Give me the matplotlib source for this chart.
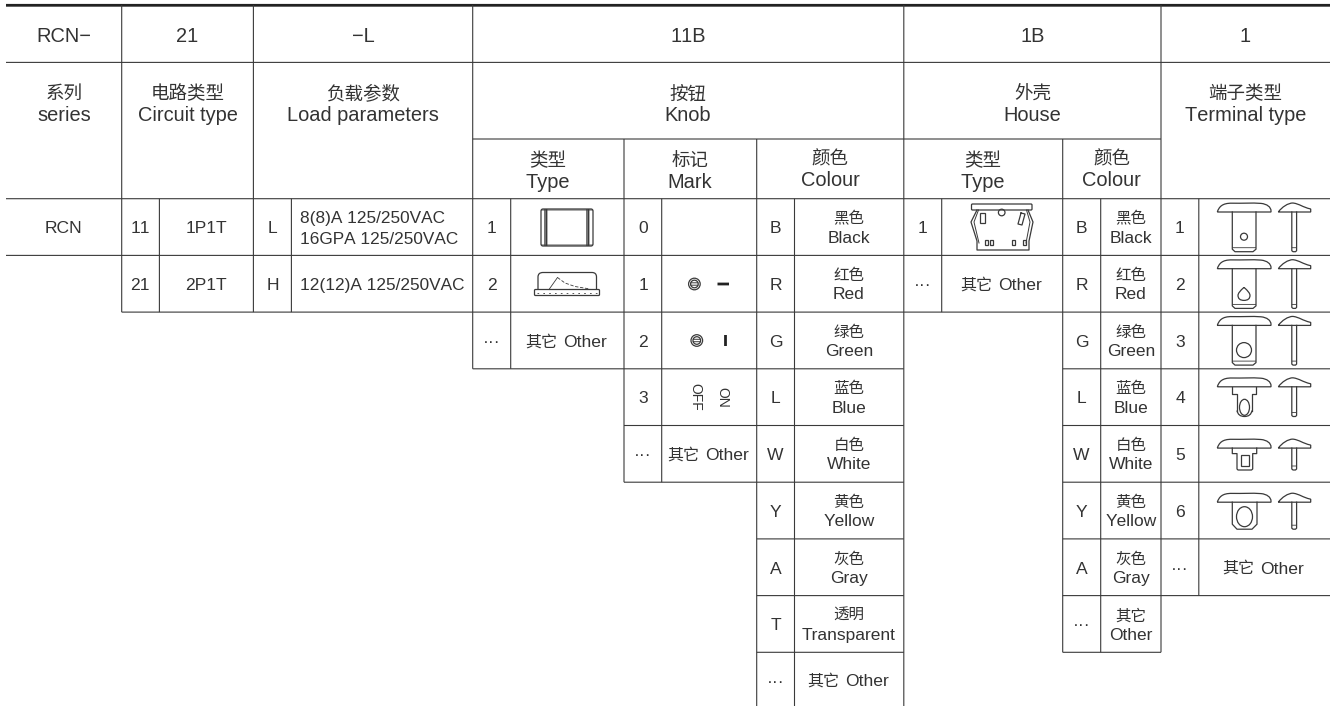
import numpy as np
import matplotlib
matplotlib.use('Agg')
import matplotlib.pyplot as plt
from matplotlib.path import Path
from matplotlib.patches import PathPatch, Circle, Ellipse, Rectangle, FancyBboxPatch

plt.rcParams['font.family'] = ['Liberation Sans', 'Noto Sans CJK SC']
plt.rcParams['text.kerning_factor'] = 6

# table text
code_row = ['RCN\u2212', '21', '\u2212L', '11B', '1B', '1']
head_cn = ['系列', '电路类型', '负载参数', '按钮', '外壳', '端子类型']
head_en = ['series', 'Circuit type', 'Load parameters', 'Knob', 'House', 'Terminal type']
sub_cn = ['类型', '标记', '颜色', '类型', '颜色']
sub_en = ['Type', 'Mark', 'Colour', 'Type', 'Colour']

circuit_codes = ['11', '21']
circuit_names = ['1P1T', '2P1T']
load_codes = ['L', 'H']
load_names = [['8(8)A 125/250VAC', '16GPA 125/250VAC'], ['12(12)A 125/250VAC']]
knob_type_codes = ['1', '2', '\u00b7\u00b7\u00b7']
mark_codes = ['0', '1', '2', '3', '\u00b7\u00b7\u00b7']
knob_colour_codes = ['B', 'R', 'G', 'L', 'W', 'Y', 'A', 'T', '\u00b7\u00b7\u00b7']
knob_colour_cn = ['黑色', '红色', '绿色', '蓝色', '白色', '黄色', '灰色', '透明']
knob_colour_en = ['Black', 'Red', 'Green', 'Blue', 'White', 'Yellow', 'Gray', 'Transparent']
house_type_codes = ['1', '\u00b7\u00b7\u00b7']
house_colour_codes = ['B', 'R', 'G', 'L', 'W', 'Y', 'A', '\u00b7\u00b7\u00b7']
house_colour_cn = ['黑色', '红色', '绿色', '蓝色', '白色', '黄色', '灰色', '其它']
house_colour_en = ['Black', 'Red', 'Green', 'Blue', 'White', 'Yellow', 'Gray', 'Other']
terminal_codes = ['1', '2', '3', '4', '5', '6', '\u00b7\u00b7\u00b7']
other_cn = '其它'
other_en = 'Other'

INK = '#3a3a3a'
TXT = '#333333'

# grid, in pixels of the page
xs = dict(a=6, b=121.7, c=159.4, d=253.4, e=291.4, f=472.7, g=510.7, h=624, i=661.7,
          j=756.7, k=794.5, l=903.8, m=941.7, n=1062.7, o=1100.7, p=1161, q=1198.8, r=1330)
y_head = [62.4, 139]
row_y = [198.7 + 56.7 * i for i in range(10)]

fig = plt.figure(figsize=(13.3, 7.06), dpi=100)
ax = fig.add_axes([0, 0, 1, 1])
ax.set_xlim(0, 1330)
ax.set_ylim(706, 0)
ax.axis('off')


def hl(y, x0, x1, lw=0.8, color=INK):
    ax.plot([x0, x1], [y, y], color=color, lw=lw, solid_capstyle='butt', snap=False)


def vl(x, y0, y1, lw=0.8, color=INK):
    ax.plot([x, x], [y0, y1], color=color, lw=lw, solid_capstyle='butt', snap=False)


def put(x, y, s, px=17.5, ha='center', **kw):
    # y is the visual middle of the capitals, so both fonts share a baseline
    ax.text(x, y + 0.36 * px, s, fontsize=px * 0.72, ha=ha, va='baseline', color=TXT, **kw)


def two(x, y, cn, en, px_cn=15.5, px_en=17.4, gap=9.3):
    put(x, y - gap, cn, px_cn)
    put(x, y + gap, en, px_en)


def other(x, y):
    put(x - 9.5, y, other_cn, 16, ha='right')
    put(x - 3.7, y, other_en, 17.5, ha='left')


# horizontal rules
hl(5.3, 6, 1330, lw=2.0, color='#222222')
hl(y_head[0], 6, 1330)
hl(y_head[1], xs['f'], xs['p'])
hl(row_y[0], 6, 1330)
hl(row_y[1], 6, 1330)
hl(row_y[2], xs['b'], 1330)
for i, (x0, x1) in enumerate([(xs['f'], xs['l']), (xs['h'], xs['l']), (xs['h'], xs['l']),
                              (xs['j'], xs['l']), (xs['j'], xs['l']), (xs['j'], xs['l'])]):
    hl(row_y[3 + i], x0, x1)
for i in range(3, 8):
    hl(row_y[i], xs['n'], 1330)
hl(row_y[8], xs['n'], xs['p'])

# vertical rules
for key, y0, y1 in [('b', 5, row_y[2]), ('c', row_y[0], row_y[2]), ('d', 5, row_y[2]),
                    ('e', row_y[0], row_y[2]), ('f', 5, row_y[3]), ('g', row_y[0], row_y[3]),
                    ('h', y_head[1], row_y[5]), ('i', row_y[0], row_y[5]),
                    ('j', y_head[1], 706), ('k', row_y[0], 706), ('l', 5, 706),
                    ('m', row_y[0], row_y[2]), ('n', y_head[1], row_y[8]),
                    ('o', row_y[0], row_y[8]), ('p', 5, row_y[8]), ('q', row_y[0], row_y[7])]:
    vl(xs[key], y0, y1)

# top two rows
code_x = [64, 187.5, 363, 688, 1032.5, 1245.5]
for x, code, cn, en in zip(code_x, code_row, head_cn, head_en):
    put(x, 35, code, 20)
    put(x, 92.5, cn, 18.5)
    put(x, 114, en, 20)

sub_x = [548, 690, 830, 983, 1111.5]
sub_y = [170.5, 170.5, 168.5, 170.5, 168.5]
for x, y, cn, en in zip(sub_x, sub_y, sub_cn, sub_en):
    two(x, y, cn, en, 18.5, 20, gap=10.5)


def mid(i):
    return (row_y[i] + row_y[i + 1]) / 2


# circuit and load columns
put(63.5, mid(0), 'RCN')
for i in range(2):
    put(140, mid(i), circuit_codes[i])
    put(206, mid(i), circuit_names[i])
    put(272.5, mid(i), load_codes[i])
    names = load_names[i]
    if len(names) == 2:
        put(300, mid(i) - 10.5, names[0], 17.3, ha='left')
        put(300, mid(i) + 10.5, names[1], 17.3, ha='left')
    else:
        put(300, mid(i), names[0], 17.3, ha='left')

# knob columns
for i, c in enumerate(knob_type_codes):
    put(491.5, mid(i), c)
other(567, mid(2))
for i, c in enumerate(mark_codes):
    put(643, mid(i), c)
other(709, mid(4))
for i, c in enumerate(knob_colour_codes):
    put(775.5, mid(i), c)
for i, cn in enumerate(knob_colour_cn):
    two(849, mid(i), cn, knob_colour_en[i])
other(849, mid(8) - 0.5)

# house columns
for i, c in enumerate(house_type_codes):
    put(922.5, mid(i), c)
other(1002, mid(1))
for i, c in enumerate(house_colour_codes):
    put(1081.5, mid(i), c)
    two(1131, mid(i), house_colour_cn[i], house_colour_en[i])

# terminal column
for i, c in enumerate(terminal_codes):
    put(1180, mid(i), c)
other(1264, mid(6))


def line(pts, lw=0.9):
    pts = np.array(pts)
    ax.plot(pts[:, 0], pts[:, 1], color=INK, lw=lw, solid_joinstyle='round')


def curve(verts, codes, lw=0.9):
    ax.add_patch(PathPatch(Path(verts, codes), facecolor='none', edgecolor=INK, lw=lw))


def open_shape(patch):
    patch.set(facecolor='none', edgecolor=INK, lw=0.9)
    ax.add_patch(patch)


# knob drawings
open_shape(FancyBboxPatch((541, 209), 52, 37, boxstyle='round,pad=0,rounding_size=2'))
for x in (545, 546.7, 587, 588.7):
    vl(x, 209, 246, lw=1.0)
hl(210, 541, 593, lw=0.6)
hl(245, 541, 593, lw=0.6)

open_shape(FancyBboxPatch((534.5, 289.5), 65, 6, boxstyle='round,pad=0,rounding_size=1'))
curve([(538, 289.5), (538, 277), (538, 272.5), (543, 272.5), (592, 272.5), (596.5, 272.5), (596.5, 277), (596.5, 289.5)],
      [Path.MOVETO, Path.LINETO, Path.CURVE3, Path.CURVE3, Path.LINETO, Path.CURVE3, Path.CURVE3, Path.LINETO])
line([(549, 289.5), (557.5, 277.5)], lw=0.6)
ax.plot([557.5, 565, 575, 590], [277.5, 283, 286.5, 289], color=INK, lw=0.6, ls=(0, (4, 2)))
ax.plot([537, 597], [293, 293], color=INK, lw=0.6, ls=(0, (2, 5)))


def target(x, y):
    open_shape(Circle((x, y), 5.8))
    open_shape(Circle((x, y), 3.8))
    hl(y - 1.2, x - 4, x + 4, lw=0.7)
    hl(y + 1.2, x - 4, x + 4, lw=0.7)


target(694.4, 284)
hl(284, 717.5, 729, lw=2.0, color='#222222')
target(696.8, 340.5)
vl(725.5, 335, 346, lw=2.0, color='#222222')
ax.text(695, 397, 'OFF', fontsize=10, rotation=-90, ha='center', va='center', color=TXT)
ax.text(722.7, 397, 'ON', fontsize=10, rotation=-90, ha='center', va='center', color=TXT)

# house drawing
open_shape(FancyBboxPatch((971.5, 204), 60.5, 6, boxstyle='round,pad=0,rounding_size=1'))
line([(977, 210), (971, 222), (977, 241), (977, 250), (1029, 250), (1029, 241), (1033, 222), (1028, 210)])
line([(978.5, 210), (974, 222), (979, 243)], lw=0.7)
line([(1026.5, 210), (1030, 222), (1026, 243)], lw=0.7)
open_shape(Circle((1001.7, 212.5), 3.3))
open_shape(Rectangle((980, 213), 4.5, 10))
line([(1021, 213), (1025, 214), (1022, 225), (1018, 224), (1021, 213)])
for x in (985, 989.7, 1012, 1023):
    open_shape(Rectangle((x, 239.5), 3.2, 5))


# terminal drawings
def terminal(ybase, kind, ybot):
    b = ybase
    curve([(1217.3, b), (1219, b - 5), (1222, b - 9), (1232, b - 8.8), (1242, b - 8.6), (1252, b - 9.3), (1261, b - 8.6),
           (1267, b - 8), (1271, b - 5), (1271, b - 1), (1271, b), (1217.3, b)],
          [Path.MOVETO] + [Path.CURVE4] * 9 + [Path.LINETO, Path.LINETO])
    curve([(1278.3, b), (1282, b - 5), (1288, b - 9), (1293, b - 9), (1300, b - 8), (1302, b - 5),
           (1310.7, b - 3), (1310.7, b), (1278.3, b)],
          [Path.MOVETO] + [Path.CURVE4] * 6 + [Path.LINETO, Path.LINETO])
    # side view pin
    line([(1291.8, b), (1291.8, ybot - 1), (1293, ybot), (1295.5, ybot), (1296.6, ybot - 1), (1296.6, b)])
    hl(ybot - 4, 1291.8, 1296.6, lw=0.6)
    if kind == 'hole':
        line([(1232.3, b), (1232.3, ybot - 2.5), (1235, ybot), (1253, ybot), (1256, ybot - 2.5), (1256, b)])
        hl(ybot - 4, 1232.3, 1256, lw=0.6)
    elif kind == 'neck':
        line([(1232.3, b), (1232.3, b + 7), (1237, b + 7), (1237, ybot - 6)])
        line([(1256, b), (1256, b + 7), (1252, b + 7), (1252, ybot - 6)])
        curve([(1237, ybot - 6), (1238, ybot), (1244.5, ybot), (1251, ybot), (1252, ybot - 6)],
              [Path.MOVETO, Path.CURVE3, Path.CURVE3, Path.CURVE3, Path.CURVE3])
    elif kind == 'square':
        line([(1232.3, b), (1232.3, b + 5.5), (1237, b + 5.5), (1237, ybot - 1), (1238, ybot),
              (1251.5, ybot), (1252.7, ybot - 1), (1252.7, b + 5.5), (1256.7, b + 5.5), (1256.7, b)])
    elif kind == 'round':
        line([(1232.3, b), (1232.3, ybot - 5), (1237, ybot), (1252, ybot), (1257, ybot - 5), (1257, b)])


terminal(row_y[0] + 13.3, 'hole', row_y[0] + 53)
open_shape(Circle((1244, row_y[0] + 38), 3.5))
terminal(row_y[1] + 13.3, 'hole', row_y[1] + 53)
curve([(1244, row_y[1] + 32), (1250, row_y[1] + 37), (1250, row_y[1] + 40), (1250, row_y[1] + 45), (1244, row_y[1] + 45),
       (1238, row_y[1] + 45), (1238, row_y[1] + 40), (1238, row_y[1] + 37), (1244, row_y[1] + 32)],
      [Path.MOVETO] + [Path.CURVE3] * 8)
terminal(row_y[2] + 13.3, 'hole', row_y[2] + 53)
open_shape(Circle((1244, row_y[2] + 38), 7.5))
terminal(row_y[3] + 18, 'neck', row_y[3] + 47.7)
open_shape(Ellipse((1244.5, row_y[3] + 38.5), 10, 16))
terminal(row_y[4] + 22.6, 'square', row_y[4] + 44.5)
open_shape(Rectangle((1240.7, row_y[4] + 29.5), 8, 10.5))
terminal(row_y[5] + 20, 'round', row_y[5] + 47)
open_shape(Ellipse((1244.5, row_y[5] + 34.5), 16, 20))

fig.savefig('out.png', dpi=100)
